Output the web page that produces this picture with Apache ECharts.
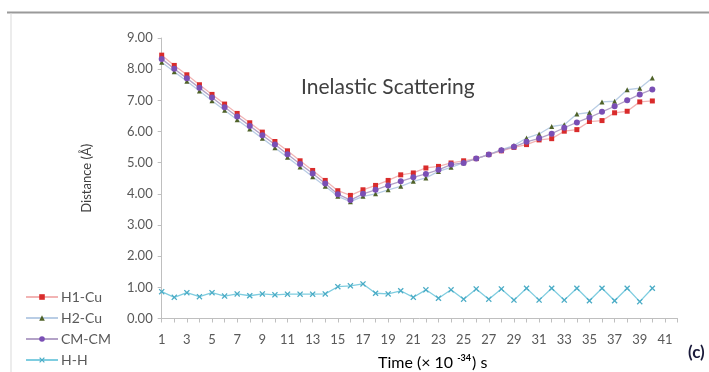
<!DOCTYPE html>
<html><head><meta charset="utf-8">
<script src="https://cdn.jsdelivr.net/npm/echarts@6/dist/echarts.min.js"></script>
<style>html,body{margin:0;padding:0;background:#fff}#c{width:709px;height:372px}</style>
</head><body><div id="c"></div>
<script>
const categories = ['1','2','3','4','5','6','7','8','9','10','11','12','13','14','15','16','17','18','19','20','21','22','23','24','25','26','27','28','29','30','31','32','33','34','35','36','37','38','39','40','41','42'];
const h1Cu = [8.45,8.12,7.82,7.50,7.19,6.88,6.58,6.28,5.98,5.68,5.38,5.06,4.75,4.43,4.10,3.95,4.13,4.27,4.43,4.61,4.67,4.83,4.88,4.99,5.06,5.13,5.26,5.38,5.49,5.58,5.73,5.77,6.01,6.06,6.32,6.35,6.60,6.65,6.95,6.98];
const h2Cu = [8.22,7.92,7.61,7.30,6.99,6.68,6.38,6.08,5.78,5.48,5.17,4.86,4.55,4.24,3.92,3.75,3.92,4.00,4.13,4.24,4.40,4.51,4.72,4.85,5.00,5.13,5.26,5.42,5.55,5.79,5.92,6.16,6.22,6.56,6.61,6.95,6.97,7.34,7.39,7.72];
const cmCm = [8.33,8.01,7.71,7.40,7.09,6.78,6.48,6.18,5.88,5.58,5.27,4.96,4.65,4.33,3.99,3.80,4.00,4.13,4.27,4.40,4.53,4.64,4.77,4.94,4.99,5.13,5.26,5.40,5.51,5.67,5.78,5.93,6.12,6.29,6.45,6.63,6.81,7.00,7.19,7.35];
const hH = [0.86,0.68,0.83,0.70,0.83,0.72,0.79,0.73,0.79,0.76,0.78,0.78,0.78,0.79,1.02,1.05,1.11,0.81,0.79,0.89,0.68,0.92,0.65,0.92,0.62,0.95,0.62,0.95,0.59,0.97,0.59,0.97,0.59,0.97,0.57,0.97,0.57,0.97,0.54,0.97];
const seriesNames = ['H1-Cu','H2-Cu','CM-CM','H-H'];
const yTicks = {min:0, max:9, interval:1};

const crossPath = 'path://M0,1.5L1.5,0L5,3.5L8.5,0L10,1.5L6.5,5L10,8.5L8.5,10L5,6.5L1.5,10L0,8.5L3.5,5Z';
const font = 'Lato, "Open Sans", sans-serif';
const chart = echarts.init(document.getElementById('c'), null, {renderer:'canvas'});
function mk(name, data, lineColor, markColor, symbol, size){
  return {name, type:'line', data, symbol, symbolSize:size, showSymbol:true,
    lineStyle:{color:lineColor, width:1.3}, itemStyle:{color:markColor, borderWidth:0},
    emphasis:{disabled:true}, animation:false};
}
chart.setOption({
  animation:false,
  textStyle:{fontFamily:font},
  grid:{left:161.7, right:31.5, top:38, bottom:53.5, containLabel:false},
  title:{text:'Inelastic Scattering', left:296, top:72, textStyle:{fontFamily:font, fontSize:21, fontWeight:'normal', color:'#404040'}},
  legend:{orient:'vertical', left:25, top:290, bottom:0, padding:0, itemGap:7, itemWidth:32, itemHeight:7,
    textStyle:{fontFamily:font, fontSize:14, lineHeight:14, color:'#595959', padding:[0,0,0,-2]},
    data:seriesNames},
  xAxis:{type:'category', data:categories, boundaryGap:false,
    axisLine:{lineStyle:{color:'#bfbfbf', width:1}},
    axisTick:{show:true, interval:0, length:4, lineStyle:{color:'#bfbfbf'}},
    axisLabel:{interval:1, fontSize:13, color:'#595959', margin:15, fontFamily:font},
    splitLine:{show:false}},
  yAxis:{type:'value', min:yTicks.min, max:yTicks.max, interval:yTicks.interval,
    name:'Distance (Å)', nameLocation:'middle', nameGap:68, nameRotate:90,
    nameTextStyle:{fontSize:13, color:'#404040', fontFamily:font},
    axisLine:{show:true, lineStyle:{color:'#bfbfbf'}},
    axisTick:{show:true, length:4, lineStyle:{color:'#bfbfbf'}},
    axisLabel:{formatter:v=>v.toFixed(2), fontSize:13, color:'#595959', margin:9, fontFamily:font},
    splitLine:{show:false}},
  series:[
    mk('H1-Cu', h1Cu, '#f2b4b4', '#d92b2b', 'rect', 5),
    mk('H2-Cu', h2Cu, '#b9cde5', '#4f6228', 'triangle', 5),
    mk('CM-CM', cmCm, '#b3a2c7', '#7a4fb5', 'circle', 6),
    mk('H-H', hH, '#7fcde0', '#4bacc6', crossPath, 6)
  ],
  graphic:[
    {type:'line', shape:{x1:7, y1:12.5, x2:709, y2:12.5}, style:{stroke:'#9a9a9a', lineWidth:2}, silent:true},
    {type:'line', shape:{x1:11, y1:13, x2:11, y2:372}, style:{stroke:'#d9d9d9', lineWidth:1}, silent:true},
    {type:'text', left:378, top:354, style:{
      text:'{a|Time (× 10 }{s|-34}{a|) s}',
      rich:{a:{fontSize:16, fontFamily:font, color:'#404040'},
            s:{fontSize:9, fontFamily:font, color:'#404040', fontWeight:'bold', padding:[0,1,8,0]}}}},
    {type:'text', left:688, top:344, style:{text:'(c)', fontSize:17, fontWeight:'bold', fontFamily:font, fill:'#1a1a3a'}}
  ]
});
</script></body></html>
